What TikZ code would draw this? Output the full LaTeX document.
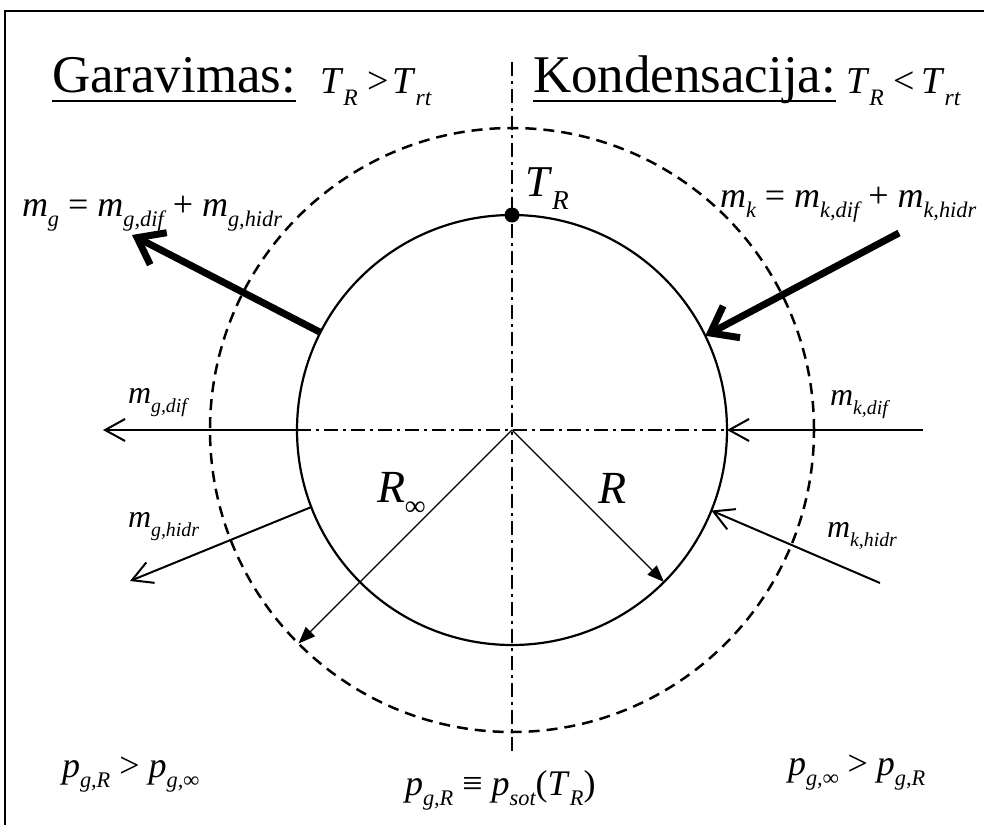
\documentclass[tikz,border=0pt]{standalone}
\usepackage{fontspec}
\setmainfont{Liberation Serif}
\usepackage{graphicx}
\usetikzlibrary{arrows.meta}
\newcommand\lo[1]{\raisebox{-0.3em}{\scalebox{0.62}{\itshape #1}}}
\newcommand\fs[1]{\fontsize{#1}{#1}\selectfont}
\begin{document}
\begin{tikzpicture}[x=1pt,y=-1pt,
  lbl/.style={inner sep=0pt, outer sep=0pt, anchor=base west},
  centerline/.style={line width=2.2pt, dash pattern=on 14pt off 5pt on 3pt off 5pt},
  flowarrow/.style={line width=2pt, -{Straight Barb[length=20pt,width=22pt]}},
  bigarrow/.style={line width=7pt, -{Straight Barb[length=24pt,width=36pt]}},
  radarrow/.style={line width=1.3pt, -{Triangle[length=17pt,width=13pt]}},
  ring/.style={circle, draw, inner sep=0pt, outer sep=0pt}]
\useasboundingbox (0,0) rectangle (984,824);
\fill[white] (0,0) rectangle (984,824);
\draw[line width=1.5pt] (5,11) rectangle (1000,840);

\coordinate (O) at (512,430);
\node[ring, line width=2.5pt, dash pattern=on 11pt off 7pt, minimum size=604pt] (outer) at (O) {};
\coordinate (vt) at (512,62);
\coordinate (vb) at (512,755);
\draw[centerline] (vt) -- (vb);
\node[ring, line width=2.2pt, minimum size=430pt] (inner) at (O) {};
\draw[centerline] (inner.west) -- (inner.east);

% flows
\coordinate (gd) at (103,430);
\coordinate (gh) at (130,581);
\coordinate (kd) at (923,430);
\coordinate (kh) at (880,583);
\coordinate (G) at (132,235);
\coordinate (K) at (899,233);
\draw[flowarrow] (inner.west) -- (gd);
\draw[flowarrow] (inner.201.7) -- (gh);
\draw[flowarrow] (kd) -- (inner.east);
\draw[flowarrow] (kh) -- (inner.-22.5);
\draw[bigarrow] (inner.153.4) -- (G);
\draw[bigarrow] (K) -- (inner.26.6);
\draw[radarrow] (O) -- (inner.-45);
\draw[radarrow] (O) -- (outer.-135);

\node[circle, fill, minimum size=15pt, inner sep=0pt] (dot) at (inner.north) {};

% titles
\node[lbl, font=\fs{53}] (gar) at (52,93) {Garavimas:};
\draw[line width=2.5pt] ([yshift=-8pt]gar.base west) -- ([yshift=-8pt]gar.base east);
\node[lbl, font=\fs{38}] (tg) at (320,94) {\textit{T}\lo{R}\hspace{10pt}>\hspace{3pt}\textit{T}\lo{rt}};
\node[lbl, font=\fs{53}] (kon) at (533,93) {Kondensacija:};
\draw[line width=2.5pt] ([yshift=-8pt]kon.base west) -- ([yshift=-8pt]kon.base east);
\node[lbl, font=\fs{38}] (tk) at (846,94) {\textit{T}\lo{R}\hspace{10pt}<\hspace{6pt}\textit{T}\lo{rt}};

\node[lbl, font=\fs{44}] (tr) at (525,196) {\textit{T}\lo{R}};

\node[lbl, font=\fs{36}] (mg) at (22,216) {\textit{m}\lo{g} = \textit{m}\lo{g,dif} + \textit{m}\lo{g,hidr}};
\node[lbl, font=\fs{36}] (mk) at (720,207) {\textit{m}\lo{k} = \textit{m}\lo{k,dif} + \textit{m}\lo{k,hidr}};
\node[lbl, font=\fs{32}] (mgd) at (128,403) {\textit{m}\lo{g,dif}};
\node[lbl, font=\fs{32}] (mgh) at (128,527) {\textit{m}\lo{g,hidr}};
\node[lbl, font=\fs{32}] (mkd) at (830,405) {\textit{m}\lo{k,dif}};
\node[lbl, font=\fs{32}] (mkh) at (827,537) {\textit{m}\lo{k,hidr}};

\node[lbl, font=\fs{46}] (rinf) at (377,502) {\textit{R}\lo{∞}};
\node[lbl, font=\fs{46}] (rr) at (598,503) {\textit{R}};

\node[lbl, font=\fs{36}] (pl) at (62,777) {\textit{p}\lo{g,R} > \textit{p}\lo{g,∞}};
\node[lbl, font=\fs{36}] (pc) at (405,795) {\textit{p}\lo{g,R} ≡ \textit{p}\lo{sot}(\textit{T}\lo{R})};
\node[lbl, font=\fs{36}] (pr) at (788,775) {\textit{p}\lo{g,∞} > \textit{p}\lo{g,R}};
\end{tikzpicture}
\end{document}
